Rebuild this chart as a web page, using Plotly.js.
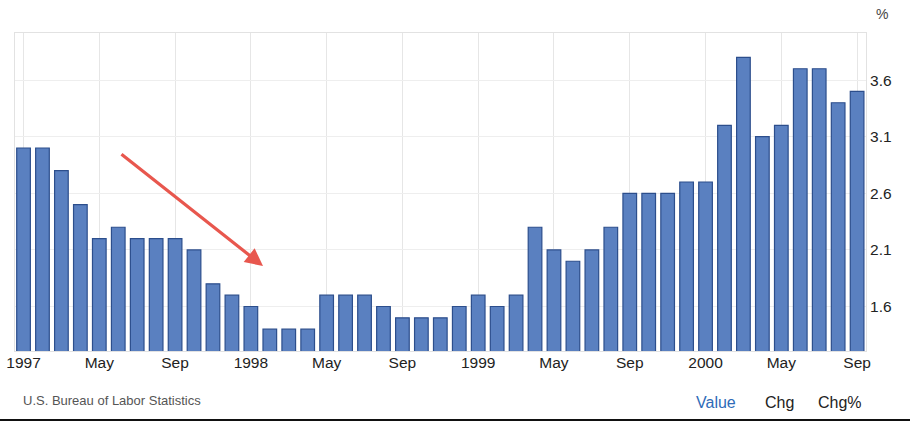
<!DOCTYPE html>
<html>
<head>
<meta charset="utf-8">
<script src="https://cdn.plot.ly/plotly-3.0.1.min.js"></script>
<style>
html,body{margin:0;padding:0;background:#fff;}
#wrap{position:relative;width:910px;height:422px;overflow:hidden;}
#chart{width:910px;height:422px;}
#rule{position:absolute;left:0;top:419px;width:910px;height:2px;background:#111;}
</style>
</head>
<body>
<div id="wrap"><div id="chart"></div><div id="rule"></div></div>
<script>
// Monthly periods, Jan 1997 - Sep 2000
const months = [
  "1997-01","1997-02","1997-03","1997-04","1997-05","1997-06","1997-07","1997-08","1997-09","1997-10","1997-11","1997-12",
  "1998-01","1998-02","1998-03","1998-04","1998-05","1998-06","1998-07","1998-08","1998-09","1998-10","1998-11","1998-12",
  "1999-01","1999-02","1999-03","1999-04","1999-05","1999-06","1999-07","1999-08","1999-09","1999-10","1999-11","1999-12",
  "2000-01","2000-02","2000-03","2000-04","2000-05","2000-06","2000-07","2000-08","2000-09"
];
// Inflation rate, %
const values = [
  3.0,3.0,2.8,2.5,2.2,2.3,2.2,2.2,2.2,2.1,1.8,1.7,
  1.6,1.4,1.4,1.4,1.7,1.7,1.7,1.6,1.5,1.5,1.5,1.6,
  1.7,1.6,1.7,2.3,2.1,2.0,2.1,2.3,2.6,2.6,2.6,2.7,
  2.7,3.2,3.8,3.1,3.2,3.7,3.7,3.4,3.5
];
const tickMonths = ["1997-01","1997-05","1997-09","1998-01","1998-05","1998-09","1999-01","1999-05","1999-09","2000-01","2000-05","2000-09"];
const tickLabels = ["1997","May","Sep","1998","May","Sep","1999","May","Sep","2000","May","Sep"];
const yTicks = [1.6,2.1,2.6,3.1,3.6];
const yTickLabels = ["1.6","2.1","2.6","3.1","3.6"];
const sourceText = "U.S. Bureau of Labor Statistics";
const unitText = "%";

const trace = {
  type: "bar",
  x: months,
  y: values,
  marker: {color: "#5a80c0", line: {color: "#2c4e8c", width: 1.2}},
  hoverinfo: "x+y"
};

const font = "Liberation Sans, Arial, Helvetica, sans-serif";

const layout = {
  width: 910, height: 422,
  margin: {l: 15, r: 44, t: 33, b: 71},
  paper_bgcolor: "#ffffff",
  plot_bgcolor: "#ffffff",
  bargap: 0.28,
  showlegend: false,
  font: {family: font, color: "#222"},
  xaxis: {
    type: "category",
    range: [-0.45, 44.47],
    tickmode: "array",
    tickvals: tickMonths,
    ticktext: tickLabels,
    ticks: "",
    ticklabelstandoff: -3,
    showgrid: true,
    gridcolor: "#e6e6e6",
    gridwidth: 1,
    showline: true,
    linecolor: "#e2e2e2",
    linewidth: 1,
    mirror: true,
    tickfont: {size: 15.5, color: "#222", family: font},
    fixedrange: true
  },
  yaxis: {
    side: "right",
    range: [1.207, 4.016],
    tickmode: "array",
    tickvals: yTicks,
    ticktext: yTickLabels,
    ticks: "",
    showgrid: true,
    gridcolor: "#eeeeee",
    gridwidth: 1,
    zeroline: false,
    showline: true,
    linecolor: "#e2e2e2",
    mirror: true,
    tickfont: {size: 15.5, color: "#222", family: font},
    fixedrange: true
  },
  annotations: [
    {xref: "paper", yref: "paper", x: 0.2914, y: 0.2673, ax: -143, ay: -113,
     showarrow: true, arrowhead: 2, arrowsize: 1.1, arrowwidth: 3.2, arrowcolor: "#e8574e", text: ""},
    {xref: "paper", yref: "paper", x: 1.0188, y: 1.0597, text: unitText, showarrow: false,
     xanchor: "center", yanchor: "middle", font: {size: 14, color: "#444", family: font}},
    {xref: "paper", yref: "paper", x: 0.007, y: -0.157, text: sourceText, showarrow: false,
     xanchor: "left", yanchor: "middle", font: {size: 13, color: "#555", family: font}},
    {xref: "paper", yref: "paper", x: 0.8237, y: -0.1604, text: "Value", showarrow: false,
     xanchor: "center", yanchor: "middle", font: {size: 16, color: "#2e6bb8", family: font}},
    {xref: "paper", yref: "paper", x: 0.8978, y: -0.1604, text: "Chg", showarrow: false,
     xanchor: "center", yanchor: "middle", font: {size: 16, color: "#222", family: font}},
    {xref: "paper", yref: "paper", x: 0.9694, y: -0.1604, text: "Chg%", showarrow: false,
     xanchor: "center", yanchor: "middle", font: {size: 16, color: "#222", family: font}}
  ]
};

Plotly.newPlot("chart", [trace], layout, {displayModeBar: false, staticPlot: true});
</script>
</body>
</html>
